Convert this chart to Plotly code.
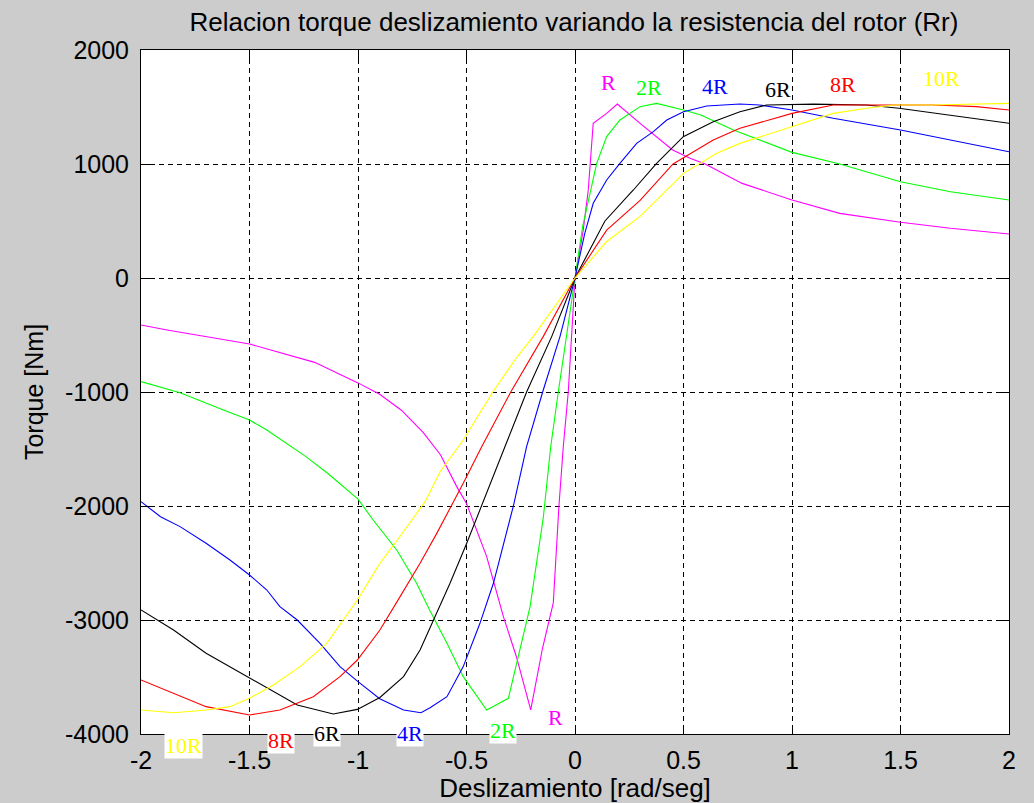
import plotly.graph_objects as go

# ---- data ----
s_R = [-2.0, -1.88, -1.5, -1.2, -1.0, -0.9, -0.8, -0.7, -0.62, -0.545, -0.5, -0.407, -0.33, -0.27,
       -0.204, -0.15, -0.1, -0.074, -0.054, -0.031, 0.0, 0.038, 0.061, 0.084, 0.146, 0.195, 0.3,
       0.45, 0.53, 0.6, 0.77, 1.0, 1.22, 1.5, 1.73, 2.0]
T_R = [-412, -456, -579, -740, -920, -1020, -1160, -1355, -1550, -1830, -1977, -2444, -2971, -3322,
       -3789, -3250, -2850, -2000, -1480, -1000, 0, 420, 770, 1357, 1444, 1526, 1357,
       1123, 1050, 1000, 830, 684, 567, 489, 436, 386]

s_2R = [-2.0, -1.82, -1.62, -1.5, -1.42, -1.24, -1.14, -1.0, -0.93, -0.82, -0.73, -0.67, -0.59, -0.515,
        -0.407, -0.307, -0.269, -0.207, -0.146, -0.112, -0.077, -0.041, 0.0, 0.035, 0.1, 0.146, 0.207,
        0.3, 0.376, 0.5, 0.58, 0.73, 1.0, 1.22, 1.5, 1.73, 2.0]
T_2R = [-909, -1006, -1158, -1246, -1333, -1567, -1713, -1940, -2123, -2390, -2678, -2912, -3205, -3497,
        -3789, -3687, -3380, -2883, -2100, -1480, -1000, -512, 0, 450, 1006, 1240, 1386,
        1503, 1532, 1474, 1430, 1298, 1102, 1000, 845, 757, 684]

s_4R = [-2.0, -1.91, -1.82, -1.7, -1.59, -1.5, -1.42, -1.36, -1.28, -1.175, -1.083, -1.0, -0.9, -0.79,
        -0.71, -0.668, -0.59, -0.515, -0.438, -0.376, -0.284, -0.223, -0.149, -0.069, 0.0, 0.045, 0.084,
        0.146, 0.207, 0.284, 0.361, 0.423, 0.5, 0.607, 0.76, 0.85, 1.0, 1.19, 1.5, 1.73, 2.0]
T_4R = [-1962, -2094, -2181, -2327, -2474, -2605, -2737, -2883, -3000, -3205, -3409, -3541, -3690, -3789,
        -3813, -3770, -3673, -3409, -3029, -2678, -2000, -1480, -1000, -512, 0, 392, 655,
        860, 1006, 1181, 1284, 1386, 1459, 1509, 1526, 1518, 1474, 1401, 1298, 1211, 1108]

s_6R = [-2.0, -1.85, -1.7, -1.5, -1.39, -1.28, -1.114, -1.003, -0.899, -0.79, -0.714, -0.653, -0.576,
        -0.499, -0.43, -0.323, -0.223, -0.107, 0.0, 0.138, 0.269, 0.376, 0.499, 0.637, 0.76,
        0.883, 1.1, 1.344, 1.493, 1.728, 2.0]
T_6R = [-2912, -3088, -3292, -3511, -3629, -3746, -3825, -3784, -3680, -3497, -3263, -3000, -2678,
        -2327, -2000, -1480, -1000, -512, 0, 500, 772, 1006, 1240, 1371, 1459,
        1518, 1525, 1518, 1489, 1430, 1357]

s_8R = [-2.0, -1.85, -1.7, -1.5, -1.36, -1.206, -1.083, -1.003, -0.899, -0.806, -0.714, -0.637, -0.515,
        -0.43, -0.296, -0.146, 0.0, 0.146, 0.3, 0.452, 0.637, 0.76, 1.0, 1.19, 1.65, 1.85, 2.0]
T_8R = [-3526, -3643, -3760, -3833, -3789, -3673, -3497, -3351, -3088, -2795, -2503, -2240, -1801,
        -1480, -1000, -512, 0, 420, 680, 1000, 1211, 1313, 1444, 1518, 1518, 1503, 1474]

s_10R = [-2.0, -1.85, -1.7, -1.59, -1.5, -1.39, -1.267, -1.144, -1.003, -0.899, -0.8, -0.69, -0.622,
         -0.515, -0.379, -0.27, -0.192, 0.0, 0.146, 0.3, 0.5, 0.653, 0.76, 1.0, 1.19, 1.344, 1.47, 1.65, 2.0]
T_10R = [-3789, -3813, -3789, -3760, -3687, -3570, -3409, -3205, -2825, -2503, -2250, -1960, -1700,
         -1421, -1000, -700, -512, 0, 320, 540, 918, 1094, 1181, 1330, 1444, 1489, 1518, 1518, 1532]

series_names = ["R", "2R", "4R", "6R", "8R", "10R"]
series_colors = ["#ff00ff", "#00ff00", "#0000ff", "#000000", "#ff0000", "#ffff00"]
series_s = [s_R, s_2R, s_4R, s_6R, s_8R, s_10R]
series_T = [T_R, T_2R, T_4R, T_6R, T_8R, T_10R]

x_range = [-2, 2]
y_range = [-4000, 2000]
x_ticks = [-2, -1.5, -1, -0.5, 0, 0.5, 1, 1.5, 2]
x_ticktext = ["-2", "-1.5", "-1", "-0.5", "0", "0.5", "1", "1.5", "2"]
y_ticks = [-4000, -3000, -2000, -1000, 0, 1000, 2000]
y_ticktext = ["-4000", "-3000", "-2000", "-1000", "0", "1000", "2000"]

# label anchor points (data coordinates)
top_label_s = [0.154, 0.341, 0.647, 0.935, 1.233, 1.690]
top_label_T = [1715, 1671, 1680, 1653, 1697, 1752]
bot_label_s = [-0.092, -0.334, -0.760, -1.142, -1.353, -1.802]
bot_label_T = [-3851, -3965, -3996, -3996, -4057, -4101]


def y_to_paper(t):
    return (t - y_range[0]) / (y_range[1] - y_range[0])


fig = go.Figure()
for name, color, xs, ys in zip(series_names, series_colors, series_s, series_T):
    fig.add_trace(go.Scatter(x=xs, y=ys, mode="lines", name=name,
                             line=dict(color=color, width=1.1), showlegend=False,
                             hoverinfo="skip"))

annotations = []
serif = "Liberation Serif, Times New Roman, serif"
for name, color, sx, ty in zip(series_names, series_colors, top_label_s, top_label_T):
    annotations.append(dict(x=sx, y=y_to_paper(ty), xref="x", yref="paper", text=name,
                            xanchor="center", yanchor="middle",
                            showarrow=False, font=dict(family=serif, size=22, color=color)))
for name, color, sx, ty in zip(series_names, series_colors, bot_label_s, bot_label_T):
    annotations.append(dict(x=sx, y=y_to_paper(ty), xref="x", yref="paper", text=name,
                            xanchor="center", yanchor="middle",
                            showarrow=False, font=dict(family=serif, size=22, color=color),
                            bgcolor="white", borderpad=0))

sans = "Liberation Sans, Arial, sans-serif"
axis_common = dict(
    showline=True, linecolor="black", linewidth=1, mirror="allticks",
    ticks="inside", ticklen=9, tickcolor="black", tickwidth=1,
    showgrid=True, gridcolor="black", gridwidth=1, griddash="5px,4px",
    zeroline=False, tickfont=dict(family=sans, size=25, color="black"),
    automargin=False,
)

fig.update_layout(
    width=1034, height=803,
    paper_bgcolor="#cccccc", plot_bgcolor="white",
    margin=dict(l=141, r=25, t=50, b=69),
    title=dict(text="Relacion torque deslizamiento variando la resistencia del rotor (Rr)",
               x=574 / 1034, xanchor="center", y=1 - 22 / 803, yanchor="middle",
               font=dict(family=sans, size=26, color="black")),
    xaxis=dict(range=x_range, tickvals=x_ticks, ticktext=x_ticktext,
               title=dict(text="Deslizamiento [rad/seg]", font=dict(family=sans, size=26, color="black"),
                          standoff=12),
               ticklabelstandoff=4, **axis_common),
    yaxis=dict(range=y_range, tickvals=y_ticks, ticktext=y_ticktext,
               title=dict(text="Torque [Nm]", font=dict(family=sans, size=25, color="black"),
                          standoff=14),
               ticklabelstandoff=6, **axis_common),
    annotations=annotations,
    font=dict(family=sans, color="black"),
)

fig.write_html("out.html", config={"displayModeBar": False},
               post_script="document.body.style.margin='0';")
